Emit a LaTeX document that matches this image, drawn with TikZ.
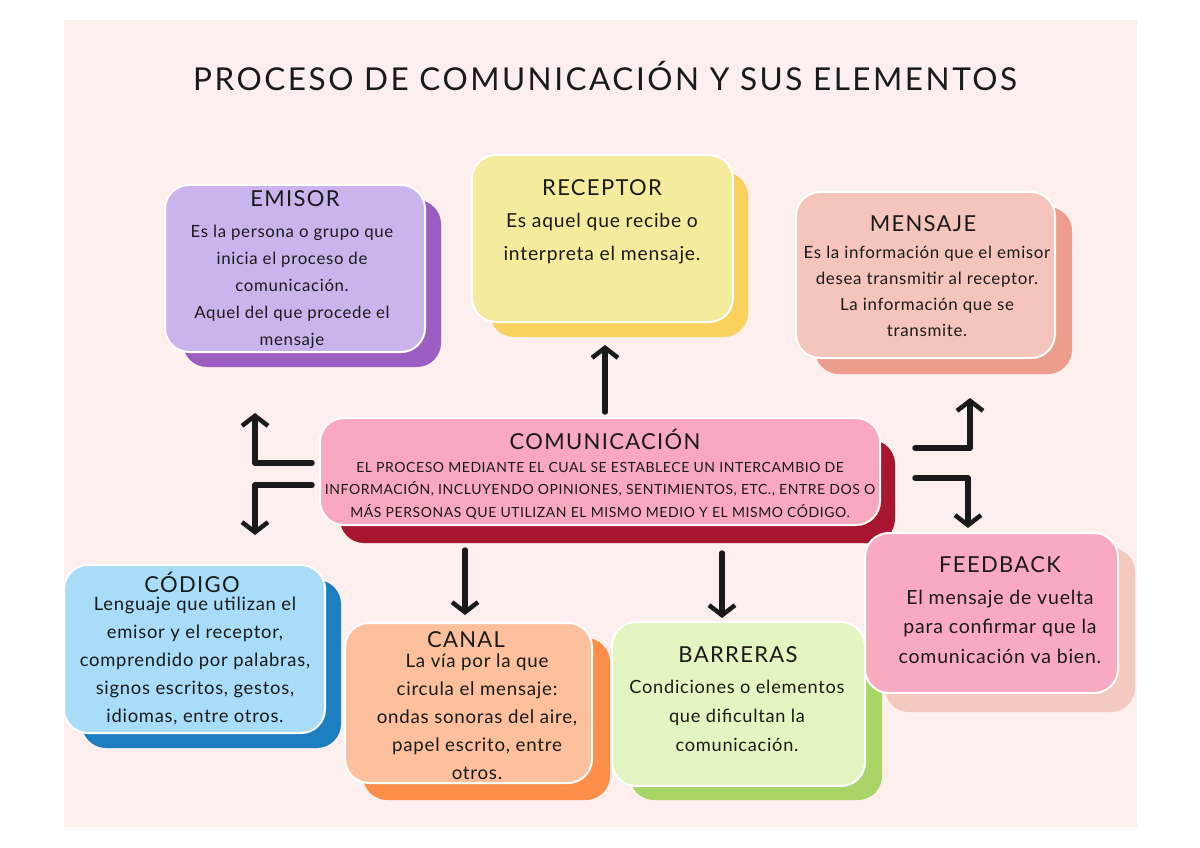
\documentclass[tikz,border=0pt]{standalone}
\usepackage{fontspec}
\setmainfont{Lato}
\newfontfamily\ttlfont[LetterSpace=8]{Lato}
\newfontfamily\hdfont[LetterSpace=6]{Lato}
\newfontfamily\capsfont[LetterSpace=4]{Lato}
\newfontfamily\bodyfont[LetterSpace=4]{Lato}
\usetikzlibrary{arrows.meta,calc}
\definecolor{panel}{HTML}{FCEFEE}
\definecolor{ink}{HTML}{1A1A1A}
\definecolor{emiF}{HTML}{C9B4EE}
\definecolor{emiS}{HTML}{9A5EC2}
\definecolor{recF}{HTML}{F4EC9C}
\definecolor{recS}{HTML}{F9D15C}
\definecolor{menF}{HTML}{F5C5BC}
\definecolor{menS}{HTML}{EC9D8B}
\definecolor{comF}{HTML}{F9A8C0}
\definecolor{comS}{HTML}{A8152F}
\definecolor{codF}{HTML}{A9DCF8}
\definecolor{codS}{HTML}{1B7FC2}
\definecolor{canF}{HTML}{FDC09D}
\definecolor{canS}{HTML}{FD8F4B}
\definecolor{barF}{HTML}{E3F5C0}
\definecolor{barS}{HTML}{A9D466}
\definecolor{feeF}{HTML}{F9A9C1}
\definecolor{feeS}{HTML}{F4C9BE}
\tikzset{
  shadowbox/.style={rounded corners=24pt, draw=none, inner sep=0pt, outer sep=0pt},
  frontbox/.style={rounded corners=24pt, draw=white, line width=2pt, inner sep=0pt, outer sep=0pt},
  hd/.style={anchor=base, text=ink, inner sep=0pt, font=\fontsize{22}{26}\selectfont\hdfont},
  body/.style={anchor=base, text=ink, inner sep=0pt, align=center},
  arr/.style={draw=ink, line width=5.5pt, line cap=round, line join=round,
    -{Straight Barb[length=10pt,width=26pt,line width=4.5pt]}},
}
\begin{document}
\begin{tikzpicture}[x=1pt,y=-1pt]
\useasboundingbox (0,0) rectangle (1200,848);
\fill[white] (0,0) rectangle (1200,848);
\fill[panel] (64,20) rectangle (1137,827);

\node[anchor=base, text=ink, inner sep=0pt, font=\fontsize{31.5}{36}\selectfont\ttlfont] (title) at (605,91) {PROCESO DE COMUNICACIÓN Y SUS ELEMENTOS};

% EMISOR
\node[shadowbox, fill=emiS, minimum width=258pt, minimum height=167pt] (emisorS) at (312,283.5) {};
\node[frontbox, fill=emiF, minimum width=260pt, minimum height=167pt] (emisor) at (295,268.5) {};
\node[hd] (emisorT) at (295,206) {EMISOR};
\node[body, font=\fontsize{16.8}{27}\selectfont\bodyfont] (emisorB) at (292,345) {Es la persona o grupo que\\inicia el proceso de\\comunicación.\\Aquel del que procede el\\mensaje};

% RECEPTOR
\node[shadowbox, fill=recS, minimum width=258pt, minimum height=165pt] (receptorS) at (619,254.5) {};
\node[frontbox, fill=recF, minimum width=261pt, minimum height=167pt] (receptor) at (602.5,238.5) {};
\node[hd] (receptorT) at (602,196) {RECEPTOR};
\node[body, font=\fontsize{19.3}{33}\selectfont\bodyfont] (receptorB) at (602,260) {Es aquel que recibe o\\interpreta el mensaje.};

% MENSAJE
\node[shadowbox, fill=menS, minimum width=257pt, minimum height=167pt] (mensajeS) at (943.5,290.5) {};
\node[frontbox, fill=menF, minimum width=259pt, minimum height=166pt] (mensaje) at (925.5,275) {};
\node[hd] (mensajeT) at (923,231) {MENSAJE};
\node[body, font=\fontsize{16.9}{25.7}\selectfont\bodyfont] (mensajeB) at (927,336) {Es la información que el emisor\\desea transmitir al receptor.\\La información que se\\transmite.};

% COMUNICACION
\node[shadowbox, fill=comS, minimum width=555pt, minimum height=103pt] (comS) at (617.5,491.5) {};
\node[frontbox, fill=comF, minimum width=560pt, minimum height=107pt] (comm) at (600,471.5) {};
\node[hd] (commT) at (605,449) {COMUNICACIÓN};
\node[body, font=\fontsize{14}{22.5}\selectfont\capsfont] (commB) at (600,517) {EL PROCESO MEDIANTE EL CUAL SE ESTABLECE UN INTERCAMBIO DE\\INFORMACIÓN, INCLUYENDO OPINIONES, SENTIMIENTOS, ETC., ENTRE DOS O\\MÁS PERSONAS QUE UTILIZAN EL MISMO MEDIO Y EL MISMO CÓDIGO.};

% CODIGO
\node[shadowbox, fill=codS, minimum width=259pt, minimum height=168pt] (codigoS) at (211.5,664) {};
\node[frontbox, fill=codF, minimum width=261pt, minimum height=168pt] (codigo) at (194.5,649) {};
\node[hd] (codigoT) at (192,592) {CÓDIGO};
\node[body, font=\fontsize{18.4}{28}\selectfont\bodyfont] (codigoB) at (195,722) {Lenguaje que utilizan el\\emisor y el receptor,\\comprendido por palabras,\\signos escritos, gestos,\\idiomas, entre otros.};

% CANAL
\node[shadowbox, fill=canS, minimum width=247pt, minimum height=162pt] (canalS) at (486.5,719) {};
\node[frontbox, fill=canF, minimum width=247pt, minimum height=160pt] (canal) at (468.5,703) {};
\node[hd] (canalT) at (466,647) {CANAL};
\node[body, font=\fontsize{18.7}{28}\selectfont\bodyfont] (canalB) at (477,779) {La vía por la que\\circula el mensaje:\\ondas sonoras del aire,\\papel escrito, entre\\otros.};

% BARRERAS
\node[shadowbox, fill=barS, minimum width=252pt, minimum height=160pt] (barrerasS) at (756,720) {};
\node[frontbox, fill=barF, minimum width=253pt, minimum height=164pt] (barreras) at (738.5,704) {};
\node[hd] (barrerasT) at (738,662) {BARRERAS};
\node[body, font=\fontsize{18.2}{29}\selectfont\bodyfont] (barrerasB) at (737,751) {Condiciones o elementos\\que dificultan la\\comunicación.};

% FEEDBACK
\node[shadowbox, fill=feeS, minimum width=250pt, minimum height=164pt] (feedbackS) at (1010,630) {};
\node[frontbox, fill=feeF, minimum width=253pt, minimum height=160pt] (feedback) at (991.5,613) {};
\node[hd] (feedbackT) at (1000,572) {FEEDBACK};
\node[body, font=\fontsize{19.5}{29.5}\selectfont\bodyfont] (feedbackB) at (1000,663) {El mensaje de vuelta\\para confirmar que la\\comunicación va bien.};

% arrows
\coordinate (tipEmisor) at (255,413);
\coordinate (tipCodigo) at (255,535);
\coordinate (tipMensaje) at (970,398);
\coordinate (tipFeedback) at (968,528);
\draw[arr] ($(comm.north)+(5,-6)$) -- ($(receptor.south)+(2.5,23)$);
\draw[arr] ($(comm.south)+(-135,25)$) -- ($(canal.north)+(-3.5,-8)$);
\draw[arr] ($(comm.south)+(122,28)$) -- ($(barreras.north)+(-16.5,-4)$);
\draw[arr] ($(comm.west)+(-8,-8.5)$) -| (tipEmisor);
\draw[arr] ($(comm.west)+(-8,13.5)$) -| (tipCodigo);
\draw[arr] ($(comm.east)+(35,-23.5)$) -| (tipMensaje);
\draw[arr] ($(comm.east)+(35,6.5)$) -| (tipFeedback);
\end{tikzpicture}
\end{document}
